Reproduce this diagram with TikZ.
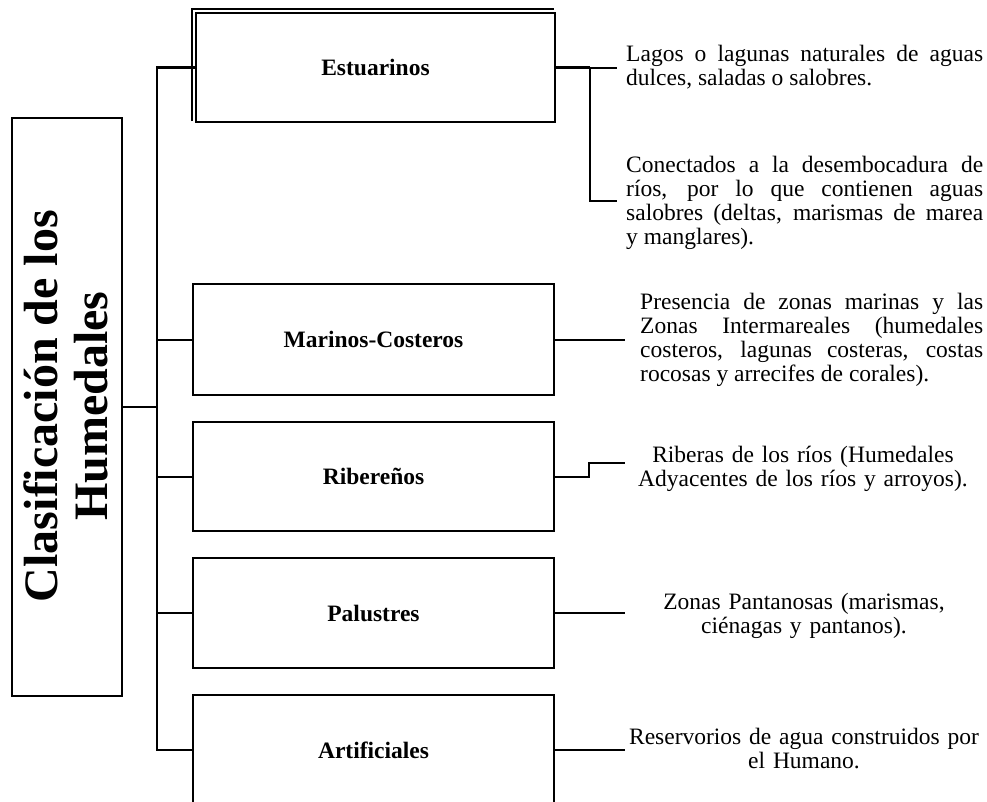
\documentclass[tikz,border=0pt]{standalone}
\usepackage{fontspec}
\setmainfont{Liberation Serif}
\tolerance=10000
\hyphenpenalty=10000
\hbadness=10000
\tikzset{
  catbox/.style={draw, line width=2pt, inner sep=0pt, minimum width=361pt, minimum height=110pt,
    font=\bfseries\fontsize{23.5}{24}\selectfont},
  conn/.style={line width=2pt},
  trunkline/.style={line width=2.5pt},
  heavy/.style={line width=3pt},
  desc/.style={inner sep=0pt, font=\fontsize{23.5}{24}\selectfont},
}
\begin{document}
\begin{tikzpicture}[x=1pt,y=-1pt]
\useasboundingbox (0,0) rectangle (987,801);
\clip (0,0) rectangle (987,801);
\fill[white] (0,0) rectangle (987,801);

% main box
\node[draw, line width=2pt, minimum width=110pt, minimum height=578pt, inner sep=0pt] (main) at (67,407) {};
\node[rotate=90, align=center, inner sep=0pt, font=\bfseries\fontsize{48}{50}\selectfont] (title) at (66,406) {Clasificación de los\\Humedales};

% category boxes
\node[catbox, minimum width=359pt, minimum height=109pt] (est) at (375.5,67.5) {Estuarinos};
\draw[line width=2pt] ([shift={(-3,-2)}]est.south west) |- ([shift={(-2,-3)}]est.north east);
\node[catbox, minimum height=111pt] (mar) at (373.5,339.5) {Marinos-Costeros};
\node[catbox, minimum height=109pt] (rib) at (373.5,476.5) {Ribereños};
\node[catbox, minimum height=110pt] (pal) at (373.5,613) {Palustres};
\node[catbox, minimum height=110pt] (art) at (373.5,750) {Artificiales};

% trunk
\coordinate (tTop) at (157,67.5);
\coordinate (tBot) at (art.west -| tTop);
\draw[trunkline] (est.west) -- (tTop) -- (tBot) -- (art.west);
\draw[conn] (main.east) -- (main.east -| tTop);
\draw[conn] (mar.west) -- (mar.west -| tTop);
\draw[conn] (rib.west) -- (rib.west -| tTop);
\draw[conn] (pal.west) -- (pal.west -| tTop);

% right connectors
\coordinate (eJ) at (590,67.5);
\coordinate (eA) at (617,67.5);
\coordinate (eB) at (617,201);
\draw[heavy] (est.east) -- (eJ);
\draw[conn] (eJ) -- (eA);
\draw[conn] (eJ) |- (eB);
\coordinate (mEnd) at (625,339.5);
\draw[conn] (mar.east) -- (mEnd);
\coordinate (rStep) at (589,476.5);
\coordinate (rEnd) at (625,463);
\draw[conn] (rib.east) -- (rStep) |- (rEnd);
\coordinate (pEnd) at (625,613);
\draw[conn] (pal.east) -- (pEnd);
\coordinate (aEnd) at (625,750);
\draw[conn] (art.east) -- (aEnd);

% descriptions
\node[desc, text width=357pt, align=justify, anchor=base west] (t1) at (626,61)
  {Lagos o lagunas naturales de aguas\linebreak dulces, saladas o salobres.};
\node[desc, text width=357pt, align=justify, anchor=base west] (t2) at (626,172)
  {Conectados a la desembocadura de\linebreak ríos, por lo que contienen aguas\linebreak salobres (deltas, marismas de marea\linebreak y manglares).};
\node[desc, text width=343pt, align=justify, anchor=base west] (t3) at (640,309)
  {Presencia de zonas marinas y las\linebreak Zonas Intermareales (humedales\linebreak costeros, lagunas costeras, costas\linebreak rocosas y arrecifes de corales).};
\node[desc, text width=360pt, align=center, anchor=base] (t4) at (803,462)
  {Riberas de los ríos (Humedales\\Adyacentes de los ríos y arroyos).};
\node[desc, text width=360pt, align=center, anchor=base] (t5) at (804,609)
  {Zonas Pantanosas (marismas,\\ciénagas y pantanos).};
\node[desc, text width=360pt, align=center, anchor=base] (t6) at (804,744)
  {Reservorios de agua construidos por\\el Humano.};
\end{tikzpicture}
\end{document}
